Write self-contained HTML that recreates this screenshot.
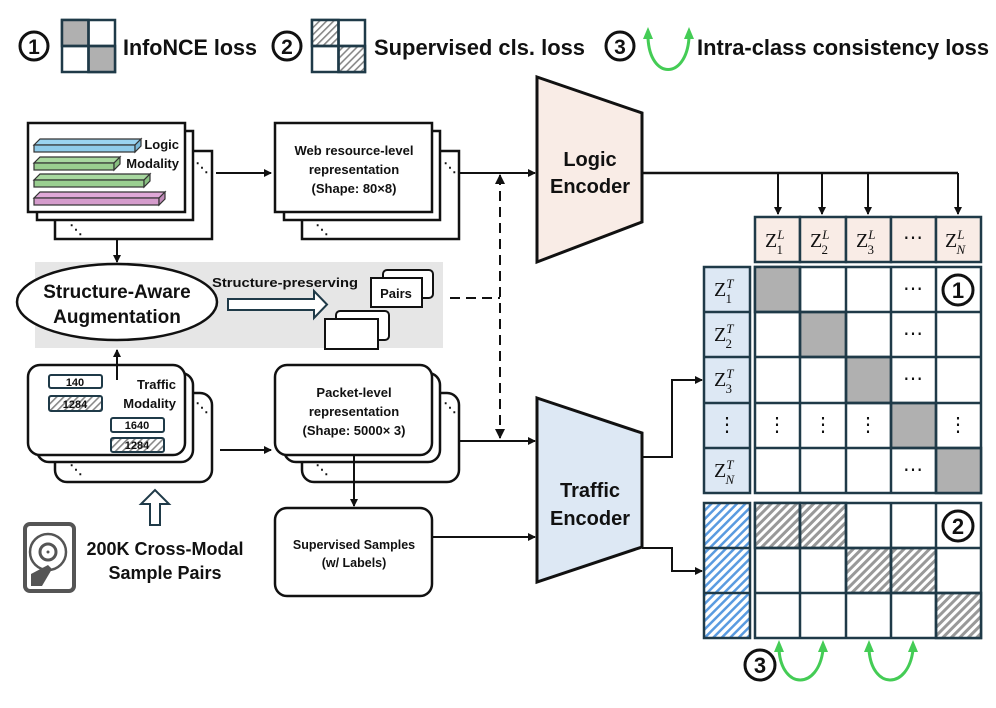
<!DOCTYPE html>
<html><head><meta charset="utf-8"><style>
html,body{margin:0;padding:0;background:#fff}
svg{display:block}
text{font-family:"Liberation Sans",sans-serif;font-weight:bold;fill:#111}
.m{font-family:"Liberation Serif",serif;font-weight:normal}
</style></head><body>
<svg width="996" height="708" viewBox="0 0 996 708" xmlns="http://www.w3.org/2000/svg">
<defs>
<marker id="ar" markerWidth="8" markerHeight="8" refX="7" refY="4" orient="auto" markerUnits="userSpaceOnUse"><path d="M0,0 L8,4 L0,8 z" fill="#111"/></marker>
<marker id="arS" markerWidth="10" markerHeight="10" refX="9" refY="5" orient="auto-start-reverse" markerUnits="userSpaceOnUse"><path d="M0,0 L10,5 L0,10 z" fill="#111"/></marker>
<pattern id="hg" width="6" height="6" patternUnits="userSpaceOnUse" patternTransform="rotate(45)"><rect width="6" height="6" fill="#fff"/><rect width="3" height="6" fill="#999"/></pattern>
<pattern id="hb" width="6" height="6" patternUnits="userSpaceOnUse" patternTransform="rotate(45)"><rect width="6" height="6" fill="#fff"/><rect width="2.5" height="6" fill="#5a9be0"/></pattern>
<pattern id="hl" width="5" height="5" patternUnits="userSpaceOnUse" patternTransform="rotate(45)"><rect width="5" height="5" fill="#fff"/><rect width="1.6" height="5" fill="#888"/></pattern>
</defs>

<!-- Legend -->
<circle cx="34" cy="46" r="14" fill="none" stroke="#111" stroke-width="3"/>
<text x="34" y="54" font-size="21" text-anchor="middle">1</text>
<g stroke="#1f3a48" stroke-width="2.5">
<rect x="62" y="20" width="53" height="52" fill="#fff"/>
<rect x="62" y="20" width="26.5" height="26" fill="#b0b0b0"/>
<rect x="88.5" y="46" width="26.5" height="26" fill="#b0b0b0"/>
<line x1="88.5" y1="20" x2="88.5" y2="72"/><line x1="62" y1="46" x2="115" y2="46"/>
</g>
<text x="123" y="55" font-size="22" textLength="134" lengthAdjust="spacingAndGlyphs">InfoNCE loss</text>
<circle cx="287" cy="46" r="14" fill="none" stroke="#111" stroke-width="3"/>
<text x="287" y="54" font-size="21" text-anchor="middle">2</text>
<g stroke="#1f3a48" stroke-width="2.5">
<rect x="312" y="20" width="53" height="52" fill="#fff"/>
<rect x="312" y="20" width="26.5" height="26" fill="url(#hl)"/>
<rect x="338.5" y="46" width="26.5" height="26" fill="url(#hl)"/>
<line x1="338.5" y1="20" x2="338.5" y2="72"/><line x1="312" y1="46" x2="365" y2="46"/>
</g>
<text x="374" y="55" font-size="22" textLength="211" lengthAdjust="spacingAndGlyphs">Supervised cls. loss</text>
<circle cx="620" cy="46" r="14" fill="none" stroke="#111" stroke-width="3"/>
<text x="620" y="54" font-size="21" text-anchor="middle">3</text>
<path d="M648,38 C650,80 686,80 689,38" fill="none" stroke="#44cc55" stroke-width="3"/>
<path d="M648,27 L643,39 L653,39z M689,27 L684,39 L694,39z" fill="#44cc55"/>
<text x="697" y="55" font-size="22" textLength="292" lengthAdjust="spacingAndGlyphs">Intra-class consistency loss</text>

<!-- Logic modality stack -->
<g stroke="#111" stroke-width="2.5" fill="#fff">
<rect x="55" y="151" width="157" height="88"/>
<rect x="37" y="131" width="156" height="89"/>
<rect x="28" y="123" width="157" height="89"/>
</g>
<g stroke="#333" stroke-width="1.2">
<path d="M34,145 h101 l6,-6 h-101 z" fill="#9ad3f0"/><rect x="34" y="145" width="101" height="7" fill="#8fcbea"/><path d="M135,145 l6,-6 v7 l-6,6z" fill="#7ab8d8"/>
<path d="M34,163 h80 l6,-6 h-80 z" fill="#a8d8a0"/><rect x="34" y="163" width="80" height="7" fill="#9acf90"/><path d="M114,163 l6,-6 v7 l-6,6z" fill="#88bf80"/>
<path d="M34,180 h110 l6,-6 h-110 z" fill="#a8d8a0"/><rect x="34" y="180" width="110" height="7" fill="#9acf90"/><path d="M144,180 l6,-6 v7 l-6,6z" fill="#88bf80"/>
<path d="M34,198 h125 l6,-6 h-125 z" fill="#e0a8d8"/><rect x="34" y="198" width="125" height="7" fill="#d59ccc"/><path d="M159,198 l6,-6 v7 l-6,6z" fill="#c08ab8"/>
</g>
<text x="179" y="149" font-size="13" text-anchor="end">Logic</text>
<text x="179" y="168" font-size="13" text-anchor="end">Modality</text>
<text x="202" y="172" font-size="13" text-anchor="middle">⋱</text>
<text x="76" y="234" font-size="13" text-anchor="middle">⋱</text>
<line x1="216" y1="173" x2="271" y2="173" stroke="#111" stroke-width="2" marker-end="url(#ar)"/>

<!-- Web resource stack -->
<g stroke="#111" stroke-width="2.5" fill="#fff">
<rect x="302" y="151" width="157" height="88"/>
<rect x="284" y="131" width="156" height="89"/>
<rect x="275" y="123" width="157" height="89"/>
</g>
<text x="354" y="155" font-size="13" text-anchor="middle">Web resource-level</text>
<text x="354" y="174" font-size="13" text-anchor="middle">representation</text>
<text x="354" y="193" font-size="13" text-anchor="middle">(Shape: 80×8)</text>
<text x="450" y="172" font-size="13" text-anchor="middle">⋱</text>
<text x="322" y="234" font-size="13" text-anchor="middle">⋱</text>

<!-- Augmentation band -->
<rect x="35" y="262" width="408" height="86" fill="#e6e6e6"/>
<line x1="117" y1="240" x2="117" y2="262" stroke="#111" stroke-width="2" marker-end="url(#ar)"/>
<ellipse cx="117" cy="302" rx="100" ry="38" fill="#fff" stroke="#111" stroke-width="2.5"/>
<text x="117" y="298" font-size="19" text-anchor="middle">Structure-Aware</text>
<text x="117" y="323" font-size="19" text-anchor="middle">Augmentation</text>
<text x="212" y="287" font-size="13" textLength="146" lengthAdjust="spacingAndGlyphs">Structure-preserving</text>
<path d="M228,299 H314 V291 L327,304.5 L314,318 V310 H228 Z" fill="#fff" stroke="#1f3a48" stroke-width="2"/>
<g stroke="#111" stroke-width="2" fill="#fff">
<rect x="383" y="270" width="50" height="28" rx="4"/>
<rect x="371" y="278" width="51" height="29"/>
<rect x="336" y="311" width="53" height="29" rx="4"/>
<rect x="325" y="319" width="53" height="30"/>
</g>
<text x="396" y="298" font-size="13" text-anchor="middle">Pairs</text>
<line x1="450" y1="298" x2="500" y2="298" stroke="#111" stroke-width="2" stroke-dasharray="10,6"/>
<line x1="500" y1="175" x2="500" y2="438" stroke="#111" stroke-width="2" stroke-dasharray="10,6" marker-start="url(#arS)" marker-end="url(#arS)"/>

<!-- Traffic modality stack -->
<g stroke="#111" stroke-width="2.5" fill="#fff">
<rect x="55" y="393" width="157" height="89" rx="12"/>
<rect x="37" y="373" width="156" height="89" rx="12"/>
<rect x="28" y="365" width="157" height="90" rx="12"/>
</g>
<line x1="117" y1="380" x2="117" y2="350" stroke="#111" stroke-width="2" marker-end="url(#ar)"/>
<g stroke="#1f3a48" stroke-width="2">
<rect x="49" y="375" width="53" height="13" rx="2" fill="#fff"/>
<rect x="49" y="396" width="53" height="15" rx="2" fill="url(#hl)"/>
<rect x="111" y="418" width="53" height="14" rx="2" fill="#fff"/>
<rect x="111" y="438" width="53" height="14" rx="2" fill="url(#hl)"/>
</g>
<text x="75" y="386" font-size="11" text-anchor="middle">140</text>
<text x="75" y="408" font-size="11" text-anchor="middle">1284</text>
<text x="137" y="429" font-size="11" text-anchor="middle">1640</text>
<text x="137" y="449" font-size="11" text-anchor="middle">1284</text>
<text x="176" y="389" font-size="13" text-anchor="end">Traffic</text>
<text x="176" y="408" font-size="13" text-anchor="end">Modality</text>
<text x="202" y="412" font-size="13" text-anchor="middle">⋱</text>
<text x="76" y="474" font-size="13" text-anchor="middle">⋱</text>
<line x1="220" y1="450" x2="271" y2="450" stroke="#111" stroke-width="2" marker-end="url(#ar)"/>
<path d="M150,525 V504 H141 L155,490 L169,504 H160 V525 Z" fill="#fff" stroke="#1f3a48" stroke-width="2"/>

<!-- Disk icon -->
<rect x="25" y="524" width="49" height="67" rx="5" fill="#fff" stroke="#555" stroke-width="4"/>
<circle cx="48" cy="552" r="18" fill="none" stroke="#555" stroke-width="2.5"/>
<circle cx="48" cy="552" r="8" fill="none" stroke="#555" stroke-width="3"/>
<circle cx="48" cy="552" r="1.5" fill="#555"/>
<path d="M31,586 V574 L48,565 L52,569 L42,586 Z" fill="#555"/>
<text x="165" y="555" font-size="18" text-anchor="middle">200K Cross-Modal</text>
<text x="165" y="579" font-size="18" text-anchor="middle">Sample Pairs</text>

<!-- Packet stack -->
<g stroke="#111" stroke-width="2.5" fill="#fff">
<rect x="302" y="393" width="157" height="89" rx="12"/>
<rect x="284" y="373" width="156" height="89" rx="12"/>
<rect x="275" y="365" width="157" height="90" rx="12"/>
</g>
<text x="354" y="397" font-size="13" text-anchor="middle">Packet-level</text>
<text x="354" y="416" font-size="13" text-anchor="middle">representation</text>
<text x="354" y="435" font-size="13" text-anchor="middle">(Shape: 5000× 3)</text>
<text x="450" y="412" font-size="13" text-anchor="middle">⋱</text>
<text x="322" y="474" font-size="13" text-anchor="middle">⋱</text>
<line x1="354" y1="455" x2="354" y2="506" stroke="#111" stroke-width="2" marker-end="url(#ar)"/>
<rect x="275" y="508" width="157" height="88" rx="12" fill="#fff" stroke="#111" stroke-width="2.5"/>
<text x="354" y="549" font-size="12.5" text-anchor="middle">Supervised Samples</text>
<text x="354" y="567" font-size="12.5" text-anchor="middle">(w/ Labels)</text>

<line x1="459" y1="173" x2="535" y2="173" stroke="#111" stroke-width="2" marker-end="url(#ar)"/>
<line x1="459" y1="441" x2="535" y2="441" stroke="#111" stroke-width="2" marker-end="url(#ar)"/>
<line x1="432" y1="537" x2="535" y2="537" stroke="#111" stroke-width="2" marker-end="url(#ar)"/>

<!-- Encoders -->
<polygon points="537,77 642,113 642,222 537,262" fill="#f9ece6" stroke="#111" stroke-width="3"/>
<text x="590" y="166" font-size="20" text-anchor="middle">Logic</text>
<text x="590" y="193" font-size="20" text-anchor="middle">Encoder</text>
<polygon points="537,398 642,433 642,547 537,582" fill="#dde8f4" stroke="#111" stroke-width="3"/>
<text x="590" y="497" font-size="20" text-anchor="middle">Traffic</text>
<text x="590" y="525" font-size="20" text-anchor="middle">Encoder</text>

<polyline points="642,173 958,173" fill="none" stroke="#111" stroke-width="2.5"/>
<g stroke="#111" stroke-width="2">
<line x1="778" y1="173" x2="778" y2="214" marker-end="url(#ar)"/>
<line x1="822" y1="173" x2="822" y2="214" marker-end="url(#ar)"/>
<line x1="868" y1="173" x2="868" y2="214" marker-end="url(#ar)"/>
<line x1="958" y1="173" x2="958" y2="214" marker-end="url(#ar)"/>
</g>
<polyline points="642,457 672,457 672,380 702,380" fill="none" stroke="#111" stroke-width="2" marker-end="url(#ar)"/>
<polyline points="642,548 672,548 672,571 702,571" fill="none" stroke="#111" stroke-width="2" marker-end="url(#ar)"/>

<!-- Header row Z^L -->
<g stroke="#1f3a48" stroke-width="2.5" fill="#f9ece6">
<rect x="755" y="217" width="45" height="45"/><rect x="800" y="217" width="46" height="45"/><rect x="846" y="217" width="45" height="45"/><rect x="891" y="217" width="45" height="45"/><rect x="936" y="217" width="45" height="45"/>
</g>
<g font-size="20">
<text x="765" y="247" class="m">Z<tspan font-size="13" font-style="italic" dy="-8">L</tspan><tspan font-size="13" dx="-8" dy="15">1</tspan></text>
<text x="810" y="247" class="m">Z<tspan font-size="13" font-style="italic" dy="-8">L</tspan><tspan font-size="13" dx="-8" dy="15">2</tspan></text>
<text x="856" y="247" class="m">Z<tspan font-size="13" font-style="italic" dy="-8">L</tspan><tspan font-size="13" dx="-8" dy="15">3</tspan></text>
<text x="913" y="244" text-anchor="middle" class="m">⋯</text>
<text x="945" y="247" class="m">Z<tspan font-size="13" font-style="italic" dy="-8">L</tspan><tspan font-size="13" font-style="italic" dx="-8" dy="15">N</tspan></text>
</g>

<!-- Matrix 1 -->
<g stroke="#1f3a48" stroke-width="2.5">
<rect x="704" y="267" width="46" height="226" fill="#dde8f4"/>
<line x1="704" y1="312" x2="750" y2="312"/><line x1="704" y1="357" x2="750" y2="357"/><line x1="704" y1="403" x2="750" y2="403"/><line x1="704" y1="448" x2="750" y2="448"/>
<rect x="755" y="267" width="226" height="226" fill="#fff"/>
<rect x="755" y="267" width="45" height="45" fill="#b0b0b0"/>
<rect x="800" y="312" width="46" height="45" fill="#b0b0b0"/>
<rect x="846" y="357" width="45" height="46" fill="#b0b0b0"/>
<rect x="891" y="403" width="45" height="45" fill="#b0b0b0"/>
<rect x="936" y="448" width="45" height="45" fill="#b0b0b0"/>
<line x1="800" y1="267" x2="800" y2="493"/><line x1="846" y1="267" x2="846" y2="493"/><line x1="891" y1="267" x2="891" y2="493"/><line x1="936" y1="267" x2="936" y2="493"/>
<line x1="755" y1="312" x2="981" y2="312"/><line x1="755" y1="357" x2="981" y2="357"/><line x1="755" y1="403" x2="981" y2="403"/><line x1="755" y1="448" x2="981" y2="448"/>
</g>
<g font-size="20">
<text x="714" y="296" class="m">Z<tspan font-size="13" font-style="italic" dy="-8">T</tspan><tspan font-size="13" dx="-8" dy="15">1</tspan></text>
<text x="714" y="341" class="m">Z<tspan font-size="13" font-style="italic" dy="-8">T</tspan><tspan font-size="13" dx="-8" dy="15">2</tspan></text>
<text x="714" y="386" class="m">Z<tspan font-size="13" font-style="italic" dy="-8">T</tspan><tspan font-size="13" dx="-8" dy="15">3</tspan></text>
<text x="714" y="477" class="m">Z<tspan font-size="13" font-style="italic" dy="-8">T</tspan><tspan font-size="13" font-style="italic" dx="-8" dy="15">N</tspan></text>
<text x="727" y="431" text-anchor="middle" class="m">⋮</text>
<text x="777" y="431" text-anchor="middle" class="m">⋮</text>
<text x="823" y="431" text-anchor="middle" class="m">⋮</text>
<text x="868" y="431" text-anchor="middle" class="m">⋮</text>
<text x="958" y="431" text-anchor="middle" class="m">⋮</text>
<text x="913" y="295" text-anchor="middle" class="m">⋯</text>
<text x="913" y="340" text-anchor="middle" class="m">⋯</text>
<text x="913" y="385" text-anchor="middle" class="m">⋯</text>
<text x="913" y="476" text-anchor="middle" class="m">⋯</text>
</g>
<circle cx="958" cy="290" r="15" fill="none" stroke="#111" stroke-width="3"/>
<text x="958" y="298" font-size="22" text-anchor="middle">1</text>

<!-- Matrix 2 -->
<g stroke="#1f3a48" stroke-width="2.5">
<rect x="704" y="503" width="46" height="135" fill="url(#hb)"/>
<line x1="704" y1="548" x2="750" y2="548"/><line x1="704" y1="593" x2="750" y2="593"/>
<rect x="755" y="503" width="226" height="135" fill="#fff"/>
<rect x="755" y="503" width="45" height="45" fill="url(#hg)"/>
<rect x="800" y="503" width="46" height="45" fill="url(#hg)"/>
<rect x="846" y="548" width="45" height="45" fill="url(#hg)"/>
<rect x="891" y="548" width="45" height="45" fill="url(#hg)"/>
<rect x="936" y="593" width="45" height="45" fill="url(#hg)"/>
<line x1="800" y1="503" x2="800" y2="638"/><line x1="846" y1="503" x2="846" y2="638"/><line x1="891" y1="503" x2="891" y2="638"/><line x1="936" y1="503" x2="936" y2="638"/>
<line x1="755" y1="548" x2="981" y2="548"/><line x1="755" y1="593" x2="981" y2="593"/>
</g>
<circle cx="958" cy="526" r="15" fill="none" stroke="#111" stroke-width="3"/>
<text x="958" y="534" font-size="22" text-anchor="middle">2</text>
<circle cx="760" cy="665" r="15" fill="none" stroke="#111" stroke-width="3"/>
<text x="760" y="673" font-size="22" text-anchor="middle">3</text>
<g fill="none" stroke="#44cc55" stroke-width="3">
<path d="M779,650 C782,690 818,690 823,650"/>
<path d="M869,650 C872,690 908,690 913,650"/>
</g>
<g fill="#44cc55">
<path d="M779,640 L774,652 L784,652z"/><path d="M823,640 L818,652 L828,652z"/>
<path d="M869,640 L864,652 L874,652z"/><path d="M913,640 L908,652 L918,652z"/>
</g>
</svg>
</body></html>
